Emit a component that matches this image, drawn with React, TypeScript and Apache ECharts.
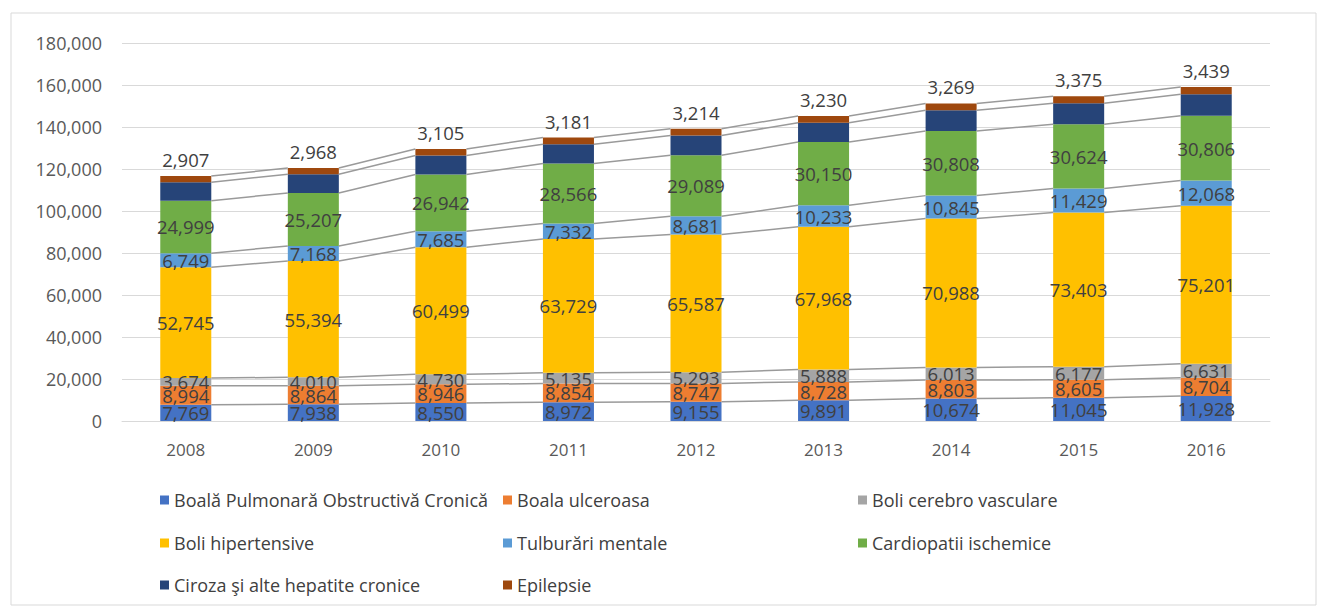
import React, { useEffect, useRef } from "react";
import * as echarts from "echarts";

const years = ["2008", "2009", "2010", "2011", "2012", "2013", "2014", "2015", "2016"];
const yTicks = { min: 0, max: 180000, interval: 20000 };

const seriesNames = [
  "Boală Pulmonară Obstructivă Cronică",
  "Boala ulceroasa",
  "Boli cerebro vasculare",
  "Boli hipertensive",
  "Tulburări mentale",
  "Cardiopatii ischemice",
  "Ciroza şi alte hepatite cronice",
  "Epilepsie",
];

const bpoc = [7769, 7938, 8550, 8972, 9155, 9891, 10674, 11045, 11928];
const ulceroasa = [8994, 8864, 8946, 8854, 8747, 8728, 8803, 8605, 8704];
const cerebro = [3674, 4010, 4730, 5135, 5293, 5888, 6013, 6177, 6631];
const hipertensive = [52745, 55394, 60499, 63729, 65587, 67968, 70988, 73403, 75201];
const mentale = [6749, 7168, 7685, 7332, 8681, 10233, 10845, 11429, 12068];
const cardiopatii = [24999, 25207, 26942, 28566, 29089, 30150, 30808, 30624, 30806];
const ciroza = [8800, 8900, 9100, 9200, 9400, 9200, 9800, 10000, 10300];
const epilepsie = [2907, 2968, 3105, 3181, 3214, 3230, 3269, 3375, 3439];

const colors = ["#4472C4", "#ED7D31", "#A5A5A5", "#FFC000", "#5B9BD5", "#70AD47", "#264478", "#9E480E"];

const FONT = "'Open Sans', 'Noto Sans', sans-serif";
const BAR_FRAC = 0.4;

export default function App() {
  const ref = useRef<HTMLDivElement>(null);

  useEffect(() => {
    if (!ref.current) return;
    const chart = echarts.init(ref.current, undefined, { renderer: "svg" });
    const all = [bpoc, ulceroasa, cerebro, hipertensive, mentale, cardiopatii, ciroza, epilepsie];

    const fmt = (v: number) => v.toLocaleString("en-US");

    const barSeries = all.map((d, k) => ({
      name: seriesNames[k],
      type: "bar",
      stack: "total",
      barWidth: BAR_FRAC * 100 + "%",
      data: d,
      itemStyle: { color: colors[k] },
      z: 2,
      label: {
        show: k !== 6,
        position: k === 7 ? "top" : "inside",
        distance: 7,
        formatter: (p: any) => fmt(p.value),
        color: "#404040",
        fontFamily: FONT,
        fontSize: 18.5,
      },
    }));

    // cumulative tops for series lines
    const cum: number[][] = [];
    all.forEach((d, k) => {
      cum.push(d.map((v, i) => v + (k > 0 ? cum[k - 1][i] : 0)));
    });

    const lineSeries = cum.map((c) => ({
      type: "custom",
      silent: true,
      z: 3,
      encode: { x: 0, y: 1 },
      data: c.slice(0, -1).map((v, i) => [i, v, c[i + 1]]),
      renderItem: (params: any, api: any) => {
        const i = api.value(0);
        const p1 = api.coord([i, api.value(1)]);
        const p2 = api.coord([i + 1, api.value(2)]);
        const bw = api.size([1, 0])[0] * BAR_FRAC;
        return {
          type: "line",
          shape: { x1: p1[0] + bw / 2, y1: p1[1], x2: p2[0] - bw / 2, y2: p2[1] },
          style: { stroke: "#9A9A9A", lineWidth: 1.5 },
        };
      },
    }));

    const legendPos = [
      [160, 502], [503, 502], [858, 502],
      [160, 545], [503, 545], [858, 545],
      [160, 587], [503, 587],
    ];
    const legends = seriesNames.map((n, k) => ({
      data: [n],
      left: legendPos[k][0],
      top: legendPos[k][1] - 11,
      padding: 0,
      itemWidth: 9,
      itemHeight: 9,
      icon: "rect",
      selectedMode: false,
      textStyle: { color: "#404040", fontFamily: FONT, fontSize: 18 },
    }));

    chart.setOption({
      animation: false,
      backgroundColor: "#ffffff",
      color: colors,
      grid: { left: 122, right: 50, top: 43, bottom: 189 },
      legend: legends,
      graphic: [
        {
          type: "rect",
          shape: { x: 11, y: 13, width: 1305, height: 592 },
          style: { fill: "none", stroke: "#D9D9D9", lineWidth: 1 },
          silent: true,
          z: -1,
        },
      ],
      xAxis: {
        type: "category",
        data: years,
        axisLine: { show: true, lineStyle: { color: "#D9D9D9", width: 1 } },
        axisTick: { show: false },
        axisLabel: { color: "#595959", fontFamily: FONT, fontSize: 17, margin: 20 },
      },
      yAxis: {
        type: "value",
        min: yTicks.min,
        max: yTicks.max,
        interval: yTicks.interval,
        axisLine: { show: false },
        axisTick: { show: false },
        splitLine: { lineStyle: { color: "#D9D9D9", width: 1 } },
        axisLabel: {
          color: "#595959",
          fontFamily: FONT,
          fontSize: 18,
          margin: 20,
          formatter: (v: number) => fmt(v),
        },
      },
      series: [...barSeries, ...lineSeries],
    });

    return () => chart.dispose();
  }, []);

  return (
    <div
      ref={ref}
      style={{ position: "fixed", left: 0, top: 0, width: 1320, height: 610, background: "#fff" }}
    />
  );
}
